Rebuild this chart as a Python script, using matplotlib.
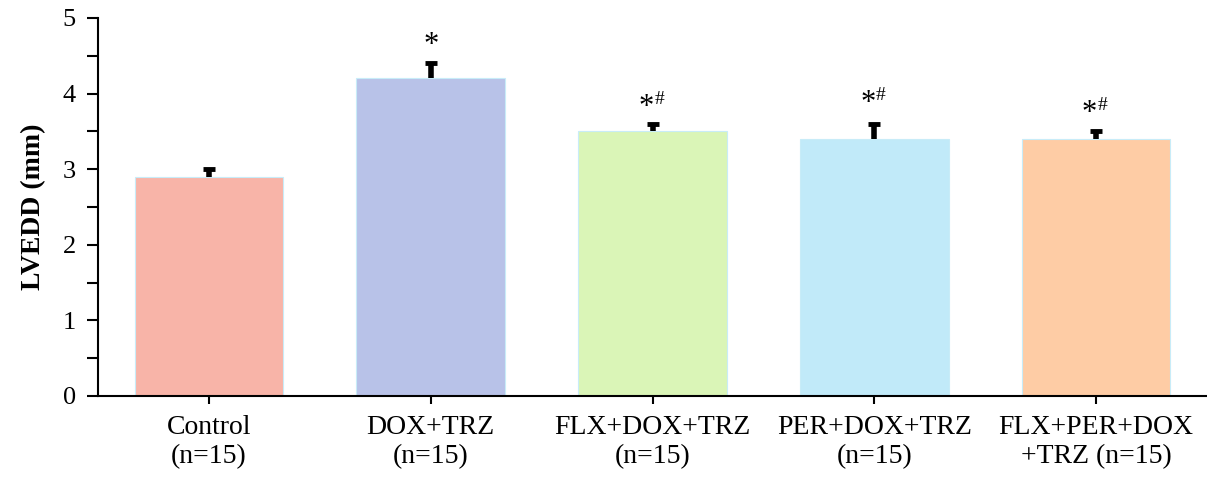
import numpy as np
import matplotlib.pyplot as plt
from matplotlib.ticker import MultipleLocator

plt.rcParams['font.family'] = ['Liberation Serif', 'DejaVu Serif']

# data
groups = ['Control\n(n=15)', 'DOX+TRZ\n(n=15)', 'FLX+DOX+TRZ\n(n=15)',
          'PER+DOX+TRZ\n(n=15)', 'FLX+PER+DOX\n+TRZ (n=15)']
lvedd = [2.9, 4.2, 3.5, 3.4, 3.4]
sem = [0.1, 0.2, 0.1, 0.2, 0.1]
marks = ['', '*', '*#', '*#', '*#']
mark_y = [None, 4.71, 3.90, 3.95, 3.82]
colors = ['#f8b4a8', '#b8c2e8', '#daf5b7', '#c1eaf9', '#fecca5']

fig = plt.figure(figsize=(12.07, 4.8), dpi=100)
ax = fig.add_axes([0.0812, 0.175, 0.9188, 0.7875])

x = np.arange(len(groups))
ax.bar(x, lvedd, width=0.67, color=colors, edgecolor='#c8ecf8', linewidth=0.8, zorder=2)
eb = ax.errorbar(x, lvedd, yerr=[np.zeros(len(sem)), sem], fmt='none', ecolor='black',
                 elinewidth=4, capsize=4.5, capthick=3.5, zorder=3)
# only the upper cap is shown
eb[1][0].set_visible(False)

for xi, m, my in zip(x, marks, mark_y):
    if not m:
        continue
    if '#' in m:
        ax.text(xi - 0.03, my - 0.08, '*', ha='center', va='center', fontsize=22, zorder=4)
        ax.text(xi + 0.03, my + 0.02, '#', ha='center', va='center', fontsize=14, zorder=4)
    else:
        ax.text(xi, my - 0.08, '*', ha='center', va='center', fontsize=22, zorder=4)

ax.set_xlim(-0.5, len(groups) - 0.5)
ax.set_ylim(0, 5)
ax.set_xticks(x)
ax.set_xticklabels(groups, fontsize=20)
ax.yaxis.set_major_locator(MultipleLocator(1))
ax.yaxis.set_minor_locator(MultipleLocator(0.5))
ax.tick_params(axis='y', which='both', direction='out', length=8, width=1.5, labelsize=19, pad=8)
ax.tick_params(axis='x', direction='out', length=6, width=1.5, pad=8)
ax.set_ylabel('LVEDD (mm)', fontsize=20, fontweight='bold', labelpad=12)

for s in ['top', 'right']:
    ax.spines[s].set_visible(False)
ax.spines['left'].set_linewidth(1.5)
ax.spines['bottom'].set_linewidth(1.5)

fig.savefig('out.png', dpi=100)
